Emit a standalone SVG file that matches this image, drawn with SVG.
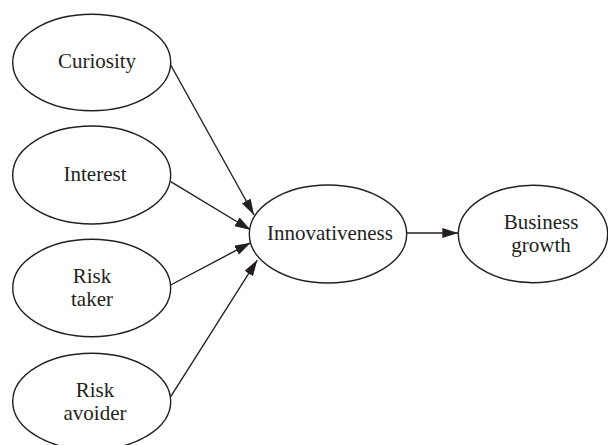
<svg xmlns="http://www.w3.org/2000/svg" width="608" height="445" viewBox="0 0 608 445">
<style>
.n ellipse{fill:#fff;stroke:#231f20;stroke-width:1.4}
.n text{font-family:"Liberation Serif","Times New Roman",serif;font-size:21px;fill:#231f20;text-anchor:middle}
.e line{stroke:#231f20;stroke-width:1.4;marker-end:url(#ah)}
</style>
<defs>
<marker id="ah" viewBox="0 0 16 10" refX="16" refY="5" markerWidth="16" markerHeight="10" markerUnits="userSpaceOnUse" orient="auto">
<path d="M0,0 L16,5 L0,10 Z" fill="#231f20"/>
</marker>
</defs>
<rect width="608" height="445" fill="#fff"/>
<g class="e" id="connectors">
<line x1="170.7" y1="65" x2="254" y2="215"/>
<line x1="170.7" y1="181.7" x2="250.7" y2="230"/>
<line x1="170.7" y1="285" x2="250.7" y2="242.7"/>
<line x1="170.7" y1="396.7" x2="257.3" y2="260"/>
<line x1="406.7" y1="233" x2="458.3" y2="233"/>
</g>
<g class="n" id="curiosity">
<ellipse cx="91.7" cy="62.5" rx="79" ry="48.3"/>
<text x="97" y="67.5">Curiosity</text>
</g>
<g class="n" id="interest">
<ellipse cx="91.7" cy="175" rx="79" ry="49"/>
<text x="95" y="180.5">Interest</text>
</g>
<g class="n" id="risk-taker">
<ellipse cx="91.7" cy="288" rx="79" ry="48.7"/>
<text x="92" y="283">Risk<tspan x="92" dy="22.5">taker</tspan></text>
</g>
<g class="n" id="risk-avoider">
<ellipse cx="91.7" cy="401.5" rx="79" ry="48.3"/>
<text x="95" y="397">Risk<tspan x="95" dy="22.5">avoider</tspan></text>
</g>
<g class="n" id="innovativeness">
<ellipse cx="328" cy="234" rx="78.7" ry="49"/>
<text x="330" y="240">Innovativeness</text>
</g>
<g class="n" id="business-growth">
<ellipse cx="533" cy="234" rx="74.7" ry="48.7"/>
<text x="541" y="229">Business<tspan x="541" dy="22.5">growth</tspan></text>
</g>
</svg>
